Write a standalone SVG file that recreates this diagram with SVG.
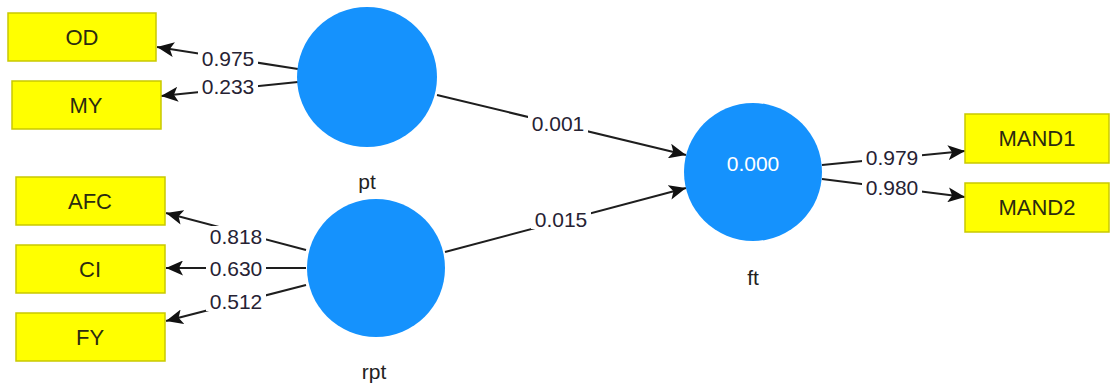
<svg xmlns="http://www.w3.org/2000/svg" width="1110" height="388" viewBox="0 0 1110 388">
<style>
.ind{fill:#ffff00;stroke:#c9c900;stroke-width:1.5}
.itx{font-family:"Liberation Sans",Arial,sans-serif;font-size:22px;fill:#2b2b10;text-anchor:middle}
.lv{fill:#1592fd}
.lvt{font-family:"Liberation Sans",Arial,sans-serif;font-size:21px;fill:#222;text-anchor:middle}
.val{font-family:"Liberation Sans",Arial,sans-serif;font-size:21px;fill:#ffffff;text-anchor:middle}
.ln{stroke:#1e1e1e;stroke-width:2;fill:none;marker-end:url(#arr)}
.bg{fill:#ffffff}
.lb{font-family:"Liberation Sans",Arial,sans-serif;font-size:21px;fill:#262233;text-anchor:middle}
</style>
<defs>
<marker id="arr" markerUnits="userSpaceOnUse" markerWidth="17" markerHeight="15" viewBox="0 0 17 15" refX="17" refY="7.5" orient="auto">
<path d="M0,0 L17,7.5 L0,15 L4,7.5 z" fill="#111"/>
</marker>
</defs>
<g id="connectors">
<line class="ln" x1="298" y1="69" x2="157" y2="47"/>
<line class="ln" x1="298" y1="82" x2="161" y2="96"/>
<line class="ln" x1="437" y1="95" x2="686" y2="155"/>
<line class="ln" x1="445" y1="252" x2="686" y2="188"/>
<line class="ln" x1="306" y1="250" x2="166" y2="213"/>
<line class="ln" x1="306" y1="268" x2="166" y2="268"/>
<line class="ln" x1="306" y1="285" x2="166" y2="321"/>
<line class="ln" x1="822" y1="165" x2="965" y2="151"/>
<line class="ln" x1="822" y1="179" x2="965" y2="197"/>
<rect class="bg" x="198" y="49" width="60" height="20"/>
<text class="lb" x="228" y="66">0.975</text>
<rect class="bg" x="198" y="77" width="60" height="20"/>
<text class="lb" x="228" y="94">0.233</text>
<rect class="bg" x="528" y="113" width="60" height="20"/>
<text class="lb" x="558" y="131">0.001</text>
<rect class="bg" x="531" y="209" width="60" height="20"/>
<text class="lb" x="561" y="227">0.015</text>
<rect class="bg" x="206" y="226" width="60" height="20"/>
<text class="lb" x="236" y="244">0.818</text>
<rect class="bg" x="206" y="258" width="60" height="20"/>
<text class="lb" x="236" y="276">0.630</text>
<rect class="bg" x="206" y="291" width="60" height="20"/>
<text class="lb" x="236" y="309">0.512</text>
<rect class="bg" x="862" y="147" width="60" height="20"/>
<text class="lb" x="892" y="165">0.979</text>
<rect class="bg" x="862" y="177" width="60" height="20"/>
<text class="lb" x="892" y="195">0.980</text>
</g>
<g id="OD"><rect class="ind" x="8" y="13" width="148" height="48"/><text class="itx" x="82" y="45">OD</text></g>
<g id="MY"><rect class="ind" x="12" y="81" width="149" height="48"/><text class="itx" x="86" y="113">MY</text></g>
<g id="AFC"><rect class="ind" x="16" y="177" width="149" height="48"/><text class="itx" x="90" y="209">AFC</text></g>
<g id="CI"><rect class="ind" x="16" y="245" width="149" height="48"/><text class="itx" x="90" y="277">CI</text></g>
<g id="FY"><rect class="ind" x="16" y="313" width="149" height="48"/><text class="itx" x="90" y="345">FY</text></g>
<g id="MAND1"><rect class="ind" x="965" y="114" width="144" height="49"/><text class="itx" x="1037" y="146">MAND1</text></g>
<g id="MAND2"><rect class="ind" x="965" y="183" width="144" height="49"/><text class="itx" x="1037" y="215">MAND2</text></g>
<g id="pt"><circle class="lv" cx="367" cy="77" r="70"/><text class="lvt" x="367" y="189">pt</text></g>
<g id="rpt"><circle class="lv" cx="376" cy="268" r="69"/><text class="lvt" x="374" y="379">rpt</text></g>
<g id="ft"><circle class="lv" cx="753" cy="172" r="69"/><text class="val" x="753" y="171">0.000</text><text class="lvt" x="753" y="285">ft</text></g>
</svg>
